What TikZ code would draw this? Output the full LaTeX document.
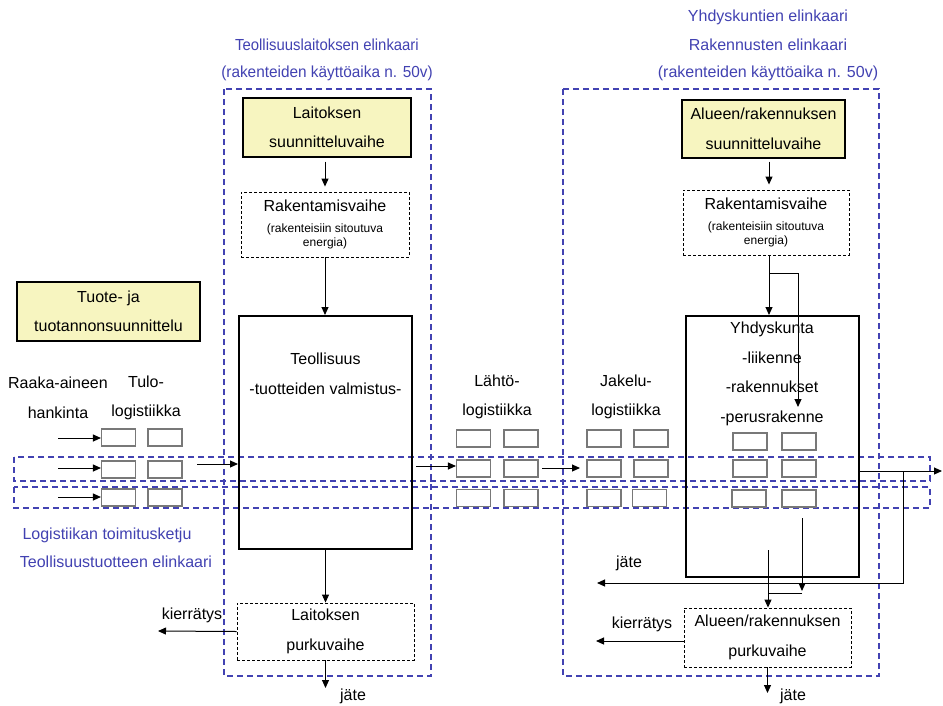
\documentclass[tikz,border=0pt]{standalone}
\usepackage{fontspec}
\setmainfont{Liberation Sans}
\usetikzlibrary{arrows.meta,calc}
\definecolor{frameblue}{RGB}{66,66,178}
\definecolor{planyellow}{RGB}{247,245,192}
\definecolor{slotgray}{RGB}{120,120,120}
\newcommand{\txt}{\fontsize{16}{29.5}\selectfont}
\newcommand{\smalltxt}{\fontsize{12}{14}\selectfont}

\begin{document}
\begin{tikzpicture}[x=1pt,y=-1pt,
  lifeframe/.style={draw=frameblue, line width=1.2pt, dash pattern=on 6pt off 4pt},
  bluelabel/.style={text=frameblue, font=\txt, inner sep=0pt},
  label/.style={font=\txt, align=center, inner sep=0pt},
  planbox/.style={draw, fill=planyellow, line width=1.2pt, font=\txt, align=center, inner sep=0pt},
  phasebox/.style={draw, line width=0.9pt, dash pattern=on 3pt off 2pt, font=\txt, align=center, inner sep=0pt},
  mainbox/.style={draw, line width=2pt, inner sep=0pt},
  slot/.style={draw=slotgray, line width=1.1pt, minimum width=34pt, minimum height=17pt, inner sep=0pt},
  arr/.style={-{Triangle[length=8pt,width=7pt]}, line width=1pt},
  link/.style={line width=1pt}
]
\fill[white] (0,0) rectangle (943,705);
\useasboundingbox (0,0) rectangle (943,705);

% life-cycle frames and the logistics bands
\draw[lifeframe] (224,89) rectangle (431,676);
\draw[lifeframe] (563,89) rectangle (879,676);
\draw[lifeframe] (14,457) rectangle (930,481);
\draw[lifeframe] (14,487) rectangle (930,508);

% frame titles
\node[bluelabel] (t1) at (327,45) {\scalebox{0.93}[1]{Teollisuuslaitoksen elinkaari}};
\node[bluelabel] (t2) at (327,73) {\scalebox{0.96}[1]{(rakenteiden käyttöaika n. 50v)}};
\node[bluelabel] (r1) at (768,17) {Yhdyskuntien elinkaari};
\node[bluelabel] (r2) at (768,45) {Rakennusten elinkaari};
\node[bluelabel] (r3) at (768,73) {(rakenteiden käyttöaika n. 50v)};
\node[bluelabel] (b1) at (107,535) {Logistiikan toimitusketju};
\node[bluelabel] (b2) at (116,562) {Teollisuustuotteen elinkaari};

% planning phases
\node[planbox, minimum width=183pt, minimum height=59pt] (tuote) at (108.5,311.5) {Tuote- ja\\tuotannonsuunnittelu};
\node[planbox, minimum width=168pt, minimum height=59pt] (lsuun) at (327,127.5) {Laitoksen\\suunnitteluvaihe};
\node[planbox, minimum width=163pt, minimum height=58pt] (asuun) at (763.5,129) {Alueen/rakennuksen\\suunnitteluvaihe};

% construction and demolition phases
\node[phasebox, minimum width=168pt, minimum height=65pt] (lrak) at (325,224.5)
  {Rakentamisvaihe\\[-8.5pt]{\smalltxt (rakenteisiin sitoutuva}\\[-15.5pt]{\smalltxt energia)}};
\node[phasebox, minimum width=166pt, minimum height=65pt] (arak) at (766,222.5)
  {Rakentamisvaihe\\[-8.5pt]{\smalltxt (rakenteisiin sitoutuva}\\[-15.5pt]{\smalltxt energia)}};
\node[phasebox, minimum width=177pt, minimum height=57pt] (lpurku) at (325.5,631.5) {Laitoksen\\purkuvaihe};
\node[phasebox, minimum width=167pt, minimum height=59pt] (apurku) at (767.5,637.5) {Alueen/rakennuksen\\purkuvaihe};

% use phases
\node[mainbox, minimum width=173pt, minimum height=233pt] (teol) at (325.5,432.5) {};
\node[label] (teolt) at (325.5,374) {Teollisuus\\-tuotteiden valmistus-};
\node[mainbox, minimum width=173pt, minimum height=261pt] (yhd) at (772.5,446.5) {};
\node[label] (yhdt) at (772,374) {Yhdyskunta\\-liikenne\\-rakennukset\\-perusrakenne};

% logistics stages
\node[label] (raaka) at (58,398) {Raaka-aineen\\hankinta};
\node[label] (tulo) at (146,398) {Tulo-\\logistiikka};
\node[label] (lahto) at (497,397) {Lähtö-\\logistiikka};
\node[label] (jakelu) at (626,397) {Jakelu-\\logistiikka};

% slots of the supply chain
\foreach \r/\y in {1/437.5,2/469.5,3/497.5} {
  \node[slot] (a\r1) at (118.5,\y) {};
  \node[slot] (a\r2) at (165,\y) {};
}
\foreach \r/\y in {1/438.5,2/468.5,3/498} {
  \node[slot] (b\r1) at (473.5,\y) {};
  \node[slot] (b\r2) at (521,\y) {};
  \node[slot] (c\r1) at (604,\y) {};
}
\node[slot] (c12) at (651,438.5) {};
\node[slot] (c22) at (651,468.5) {};
\node[slot] (c32) at (649.5,498) {};
\node[slot] (d11) at (750,441.5) {};
\node[slot] (d12) at (799,441.5) {};
\node[slot] (d21) at (750,468.5) {};
\node[slot] (d22) at (799,468.5) {};
\node[slot] (d31) at (749,498.5) {};
\node[slot] (d32) at (799,498.5) {};

% recycling and waste labels
\node[label] (kier1) at (192,615) {kierrätys};
\node[label] (jate1) at (353,696) {jäte};
\node[label] (jate2) at (629,563) {jäte};
\node[label] (kier2) at (642,624) {kierrätys};
\node[label] (jate3) at (793,696) {jäte};

% free ends of connectors
\coordinate (in1) at (58,438);
\coordinate (in2) at (58,468);
\coordinate (in3) at (58,497);
\coordinate (feed) at (197,464);
\coordinate (ship) at (416,466);
\coordinate (dist) at (542,468);
\coordinate (distend) at (580,468);
\coordinate (outend) at (942,471);
\coordinate (split) at (903,471);
\coordinate (wasteend) at (597,583);
\coordinate (fork) at (769,273);
\coordinate (forkend) at (798,407);
\coordinate (uA) at (802,518);
\coordinate (uB) at (802,591);
\coordinate (uC) at (802,593);
\coordinate (uD) at (768,593);
\coordinate (uE) at (768,550);
\coordinate (lj) at (324,688);
\coordinate (lk) at (158,631);
\coordinate (ak) at (596,641);
\coordinate (aj) at (768,693);

% material flow
\draw[arr] (in1) -- (in1 -| a11.west);
\draw[arr] (in2) -- (in2 -| a21.west);
\draw[arr] (in3) -- (in3 -| a31.west);
\draw[arr] (feed) -- (feed -| teol.west);
\draw[arr] (ship) -- (ship -| b21.west);
\draw[arr] (dist) -- (distend);
\draw[arr] (yhd.east |- outend) -- (outend);
\draw[arr] (split) |- (wasteend);

% life-cycle flow
\draw[arr, shorten <=4pt, shorten >=5pt] (lsuun.south -| lrak.north) -- (lrak.north);
\draw[arr, shorten <=3pt, shorten >=5pt] (asuun.south -| fork) -- (arak.north -| fork);
\draw[arr] (lrak.south) -- (lrak.south |- teol.north);
\draw[arr] (arak.south -| fork) -- (fork |- yhd.north);
\draw[arr] (fork) -| (forkend);
\draw[arr] (uA) -- (uB);
\draw[link] (uC) -- (uD);
\draw[arr] (uE) -- (uE |- apurku.north);
\draw[arr] (teol.south) -- (teol.south |- lpurku.north);
\draw[arr] (lpurku.south) -- (lpurku.south |- lj);
\draw[arr] (lpurku.west) -- (lk);
\draw[arr] (apurku.west |- ak) -- (ak);
\draw[arr] (apurku.south) -- (apurku.south |- aj);
\end{tikzpicture}
\end{document}
